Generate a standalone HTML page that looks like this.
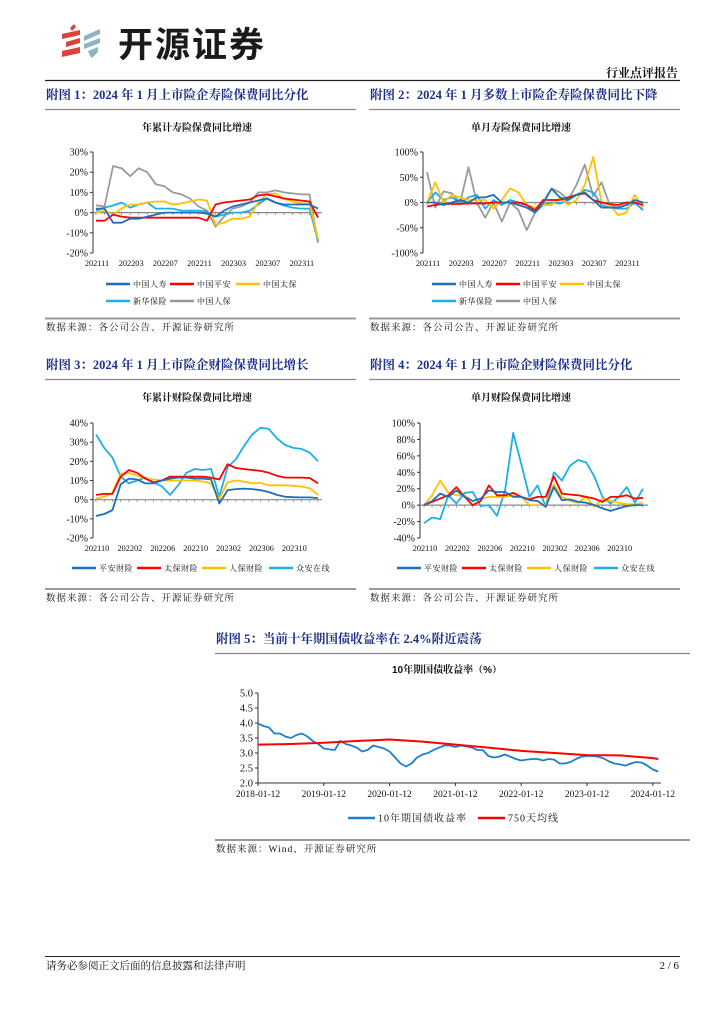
<!DOCTYPE html>
<html><head><meta charset="utf-8">
<style>
html,body{margin:0;padding:0;background:#fff;}
body{width:724px;height:1024px;position:relative;overflow:hidden;font-family:"Liberation Serif","Noto Serif CJK SC",serif;}
svg{position:absolute;left:0;top:0;}
</style></head>
<body>
<svg id="pg" width="724" height="1024" viewBox="0 0 724 1024" xmlns="http://www.w3.org/2000/svg">
  <g>
    <polygon points="70,28 74,24 76,27 72,31" fill="#d9443a"/>
    <polygon points="62,34 80,30 80,35 62,39" fill="#d9443a"/>
    <polygon points="66,42 80,38 80,43 66,47" fill="#d9443a"/>
    <polygon points="62,51 80,47 80,53 62,57" fill="#d9443a"/>
    <polygon points="84,36 100,29 100,34 84,41" fill="#8fb3c4"/>
    <polygon points="84,44 100,38 100,43 84,49" fill="#8fb3c4"/>
    <polygon points="88,51 98,47 98,52 92,58 90,56" fill="#8fb3c4"/>
  </g>
  <text x="118" y="57" font-family="'Liberation Sans','Noto Sans CJK SC',sans-serif" font-weight="bold" font-size="35" fill="#1a1a1a" letter-spacing="2">开源证券</text>
  <line x1="45" y1="80.5" x2="680" y2="80.5" stroke="#222" stroke-width="1.2"/>
  <text x="678" y="77" text-anchor="end" font-family="'Liberation Serif','Noto Serif CJK SC',serif" font-weight="bold" font-size="12" fill="#111">行业点评报告</text>
  <g id="charts"></g>
  <line x1="45" y1="956.5" x2="680" y2="956.5" stroke="#222" stroke-width="1"/>
  <text x="46" y="969" font-size="10.5" fill="#111" font-family="'Liberation Serif','Noto Serif CJK SC',serif">请务必参阅正文后面的信息披露和法律声明</text>
  <text x="679" y="969" text-anchor="end" font-size="11" fill="#111">2 / 6</text>
</svg>
<script>
// ---------- Chart 1: 年累计寿险保费同比增速 (202111-202401) ----------
const c1Cats=['202111','202112','202201','202202','202203','202204','202205','202206','202207','202208','202209','202210','202211','202212','202301','202302','202303','202304','202305','202306','202307','202308','202309','202310','202311','202312','202401'];
const c1Renshou=[2,2,-5,-5,-3,-3,-2,-1,0,0,0,0,0,-0.5,-2,1,3,4,5,6,7,5,4,4,4,4,2];
const c1Pingan=[-4,-4,-1,-2,-2.5,-2.5,-2.5,-2.5,-2.5,-2.5,-2.5,-2.5,-2.5,-4,4,5,5.5,6,6.5,8.5,9,8,7,6.5,6,5.5,-2.5];
const c1Taibao=[0,1,-1,2,4,4,5,5.5,5.5,4,4.5,5.5,6.5,6,-6,-5,-3,-3,-2,5,9,9.5,7,5.5,4.5,4.5,-13];
const c1Xinhua=[1,2.5,3.5,5,2.5,4,5,2,2,2,1,1,1,0.5,-2,-1,0,0,1,4,7,5,3.5,2.5,2,2,-14];
const c1Renbao=[3.6,3,23,22,18,22,20,14,13,10,9,7,3,1,-7,-2,2,3,5,10,10,11,10,9.5,9,9,-15];
const c1Ticks=[-20,-10,0,10,20,30];
// ---------- Chart 2: 单月寿险保费同比增速 ----------
const c2Renshou=[0,0,-5,0,5,0,10,10,15,0,0,-5,-10,-20,0,27,10,5,15,20,5,-10,-10,-10,-5,5,0];
const c2Pingan=[-8,-5,-3,-3,-3,-2,-2,-2,0,0,0,0,-5,-15,5,5,5,10,15,18,5,0,-3,-5,0,0,-5];
const c2Taibao=[0,40,0,15,10,5,5,5,-12,5,28,20,-5,-10,-5,-5,10,-5,5,35,90,0,-5,-25,-20,15,-10];
const c2Xinhua=[0,20,5,10,0,10,15,-12,5,-5,5,0,-5,-20,-5,0,-2,5,15,25,20,-5,-10,-12,-12,0,-15];
const c2Renbao=[60,-10,22,18,0,70,0,-30,0,-38,0,-15,-55,-20,0,28,20,5,35,75,12,40,-5,-10,-5,0,-15];
const c2Ticks=[-100,-50,0,50,100];
// ---------- Chart 3: 年累计财险保费同比增速 (202110-202401) ----------
const c3Cats=['202110','202111','202112','202201','202202','202203','202204','202205','202206','202207','202208','202209','202210','202211','202212','202301','202302','202303','202304','202305','202306','202307','202308','202309','202310','202311','202312','202401'];
const c3Pingan=[-8.5,-7.5,-5.5,8,11,10.5,8.5,8.5,10,11,11.5,11.5,11,11,10.5,-2,5,5.5,5.8,5.5,5,4,2.5,1.5,1.3,1.2,1.2,0.8];
const c3Taibao=[2.5,3,3,12,15.5,14,11,9,10,12,12,12,12,12,11.5,10.5,18.5,16.5,16,15.5,15,14,12.5,11.5,11.5,11.5,11.3,8.5];
const c3Renbao=[0.5,1.5,3.5,13.5,14,12.5,11,10.5,10,10,10,10,10,9.5,8.5,0.5,9,10,9.5,8.5,8.8,7.5,7.5,7.5,7.2,6.8,6,2.5];
const c3Zhongan=[34,27,22,12,8.5,10,11.5,9,7,2.5,7.5,14,16,15.5,16,1.5,17,21,28,34,37.5,37,32,28.5,27,26.5,24.5,20];
const c3Ticks=[-20,-10,0,10,20,30,40];
// ---------- Chart 4: 单月财险保费同比增速 ----------
const c4Pingan=[0,5,14,10,18,10,5,8,18,16,16,10,10,6,5,-2,22,6,7,4,3,0,-4,-7,-4,-1,0,0];
const c4Taibao=[0,4,8,12,22,10,0,5,24,12,12,15,10,7,10,10,35,14,13,12,10,8,4,10,10,12,8,9];
const c4Renbao=[0,12,30,15,12,12,5,8,10,10,10,12,10,0,0,0,25,10,5,3,10,-2,8,5,3,1,1,3];
const c4Zhongan=[-22,-15,-17,12,2,15,16,-1,0,-13,18,88,50,10,24,-2,40,30,48,55,52,35,10,2,10,22,3,20];
const c4Ticks=[-40,-20,0,20,40,60,80,100];
// ---------- Chart 5: 10年期国债收益率 (monthly, 2018-01 .. 2024-02) ----------
const c5Yield=[3.98,3.9,3.85,3.65,3.65,3.55,3.5,3.6,3.65,3.55,3.4,3.3,
 3.15,3.12,3.1,3.4,3.3,3.25,3.18,3.05,3.1,3.25,3.2,3.15,
 3.05,2.85,2.65,2.55,2.65,2.85,2.95,3.0,3.1,3.18,3.25,3.25,
 3.2,3.25,3.22,3.18,3.1,3.1,2.9,2.85,2.88,2.95,2.88,2.8,
 2.75,2.78,2.8,2.8,2.75,2.8,2.78,2.65,2.65,2.7,2.8,2.88,
 2.9,2.9,2.88,2.82,2.72,2.65,2.62,2.58,2.65,2.7,2.68,2.58,
 2.45,2.38];
const c5MaMonths=[0,6,12,18,24,30,36,42,48,54,60,66,72,73];
const c5MaValues=[3.28,3.30,3.34,3.40,3.45,3.38,3.28,3.18,3.07,3.0,2.93,2.92,2.83,2.80];
const c5Ticks=[2.0,2.5,3.0,3.5,4.0,4.5,5.0];
const c5Years=['2018-01-12','2019-01-12','2020-01-12','2021-01-12','2022-01-12','2023-01-12','2024-01-12'];

const NS='http://www.w3.org/2000/svg';
const root=document.getElementById('charts');
const COL={renshou:'#1f6fb8',pingan:'#ff0000',taibao:'#ffc000',xinhua:'#1cb0e6',renbao:'#9a9a9a'};
function mk(tag,attrs,parent){const e=document.createElementNS(NS,tag);for(const k in attrs)e.setAttribute(k,attrs[k]);(parent||root).appendChild(e);return e;}
function txt(x,y,s,size,opts,parent){const t=mk('text',Object.assign({x:x,y:y,'font-size':size,fill:'#111'},opts||{}),parent);t.textContent=s;return t;}

function section(x1,x2,yTitle,title,chartTitle,ctX,ctY,yBot,source){
  const t=txt(x1+1,yTitle,title,12.5,{fill:'#1c2f8a','font-weight':'bold','font-family':"'Liberation Serif','Noto Serif CJK SC',serif"});
  
  
  const l=mk('line',{x1:x1,y1:yTitle+10.5,x2:x2,y2:yTitle+10.5,stroke:'#888','stroke-width':1.2});
  
  
  const c=txt(ctX,ctY,chartTitle,10,{'text-anchor':'middle','font-weight':'bold','font-family':"'Liberation Sans','Noto Serif CJK SC',serif"});
  
  
  const b=mk('line',{x1:x1,y1:yBot,x2:x2,y2:yBot,stroke:'#999','stroke-width':2});
  
  
  const s=txt(x1+1,yBot+12,source,9.5,{'font-family':"'Liberation Serif','Noto Serif CJK SC',serif",'letter-spacing':'1'});
  
  
}

function lineChart(cfg){
  const g=mk('g',{});
  
  
  const ys=v=>cfg.yTop+(cfg.max-v)/(cfg.max-cfg.min)*(cfg.yBot-cfg.yTop);
  const xs=i=>cfg.x0+i*(cfg.x1-cfg.x0)/(cfg.n-1);
  const ya=mk('line',{x1:cfg.ax,y1:cfg.yTop,x2:cfg.ax,y2:cfg.yBot,stroke:'#333','stroke-width':1},g);
  
  
  cfg.ticks.forEach(v=>{
    mk('line',{x1:cfg.ax-3,y1:ys(v),x2:cfg.ax,y2:ys(v),stroke:'#333','stroke-width':1},g);
    const t=txt(cfg.ax-5,ys(v)+3.5,cfg.fmt(v),10,{'text-anchor':'end'},g);
    
    
  });
  const y0=ys(cfg.base);
  const xa=mk('line',{x1:cfg.ax,y1:y0,x2:cfg.axEnd,y2:y0,stroke:'#888','stroke-width':1.2},g);
  
  
  for(let i=0;i<cfg.n;i++)mk('line',{x1:xs(i),y1:y0,x2:xs(i),y2:y0+2.5,stroke:'#888','stroke-width':0.8},g);
  cfg.cats.forEach((c,i)=>{
    if(i%4!==0)return;
    const t=txt(xs(i)+1,cfg.labY,c,8.3,{'text-anchor':'middle'},g);
    
    
  });
  cfg.series.forEach(s=>{
    const d=s.data.map((v,i)=>(i?'L':'M')+xs(i).toFixed(1)+','+ys(v).toFixed(1)).join('');
    const p=mk('path',{d:d,fill:'none',stroke:s.color,'stroke-width':1.8,'stroke-linejoin':'round'},g);
    
    
  });
  cfg.legend.forEach(L=>{
    const lg=mk('g',{},g);
    
    
    mk('line',{x1:L[0],y1:L[1],x2:L[0]+24,y2:L[1],stroke:L[3],'stroke-width':2.5},lg);
    txt(L[0]+27,L[1]+3,L[2],8,{'font-family':"'Liberation Serif','Noto Serif CJK SC',serif",'letter-spacing':'0.5'},lg);
  });
}
const pct=v=>v+'%';

section(45,356,99,'附图 1：2024 年 1 月上市险企寿险保费同比分化','年累计寿险保费同比增速',197,131,318.5,'数据来源：各公司公告、开源证券研究所');
lineChart({name:'chart-life-ytd',ax:93,axEnd:322,yTop:152,yBot:253,min:-20,max:30,base:0,ticks:c1Ticks,fmt:pct,x0:96,x1:318,n:c1Cats.length,cats:c1Cats,labY:266,
 series:[{key:'renbao',data:c1Renbao,color:COL.renbao},{key:'xinhua',data:c1Xinhua,color:COL.xinhua},{key:'taibao',data:c1Taibao,color:COL.taibao},{key:'pingan',data:c1Pingan,color:COL.pingan},{key:'renshou',data:c1Renshou,color:COL.renshou}],
 legend:[[106,284,'中国人寿',COL.renshou],[170,284,'中国平安',COL.pingan],[236,284,'中国太保',COL.taibao],[106,301,'新华保险',COL.xinhua],[170,301,'中国人保',COL.renbao]]});

section(369,680,99,'附图 2：2024 年 1 月多数上市险企寿险保费同比下降','单月寿险保费同比增速',521,131,318.5,'数据来源：各公司公告、开源证券研究所');
lineChart({name:'chart-life-monthly',ax:423,axEnd:648,yTop:152,yBot:253,min:-100,max:100,base:0,ticks:c2Ticks,fmt:pct,x0:427,x1:643,n:c1Cats.length,cats:c1Cats,labY:266,
 series:[{key:'renbao',data:c2Renbao,color:COL.renbao},{key:'xinhua',data:c2Xinhua,color:COL.xinhua},{key:'taibao',data:c2Taibao,color:COL.taibao},{key:'pingan',data:c2Pingan,color:COL.pingan},{key:'renshou',data:c2Renshou,color:COL.renshou}],
 legend:[[432,284,'中国人寿',COL.renshou],[496,284,'中国平安',COL.pingan],[560,284,'中国太保',COL.taibao],[432,301,'新华保险',COL.xinhua],[496,301,'中国人保',COL.renbao]]});

section(45,356,369,'附图 3：2024 年 1 月上市险企财险保费同比增长','年累计财险保费同比增速',197,401,589,'数据来源：各公司公告、开源证券研究所');
lineChart({name:'chart-pc-ytd',ax:93,axEnd:322,yTop:423,yBot:538,min:-20,max:40,base:0,ticks:c3Ticks,fmt:pct,x0:96,x1:318,n:c3Cats.length,cats:c3Cats,labY:551,
 series:[{key:'zhongan',data:c3Zhongan,color:COL.xinhua},{key:'renbao',data:c3Renbao,color:COL.taibao},{key:'taibao',data:c3Taibao,color:COL.pingan},{key:'pingan',data:c3Pingan,color:COL.renshou}],
 legend:[[72,568,'平安财险',COL.renshou],[137,568,'太保财险',COL.pingan],[202,568,'人保财险',COL.taibao],[269,568,'众安在线',COL.xinhua]]});

section(369,680,369,'附图 4：2024 年 1 月上市险企财险保费同比分化','单月财险保费同比增速',521,401,589,'数据来源：各公司公告、开源证券研究所');
lineChart({name:'chart-pc-monthly',ax:420,axEnd:648,yTop:423,yBot:538,min:-40,max:100,base:0,ticks:c4Ticks,fmt:pct,x0:424,x1:643,n:c3Cats.length,cats:c3Cats,labY:551,
 series:[{key:'zhongan',data:c4Zhongan,color:COL.xinhua},{key:'renbao',data:c4Renbao,color:COL.taibao},{key:'taibao',data:c4Taibao,color:COL.pingan},{key:'pingan',data:c4Pingan,color:COL.renshou}],
 legend:[[397,568,'平安财险',COL.renshou],[462,568,'太保财险',COL.pingan],[527,568,'人保财险',COL.taibao],[594,568,'众安在线',COL.xinhua]]});

section(215,690,643,'附图 5：当前十年期国债收益率在 2.4%附近震荡','10年期国债收益率（%）',447,673,840,'数据来源：Wind、开源证券研究所');
(function(){
  const g=mk('g',{});
  
  
  const ax=258,axEnd=661,yTop=693,yBot=783,mn=2,mx=5,perYear=65.8;
  const ys=v=>yTop+(mx-v)/(mx-mn)*(yBot-yTop);
  const xm=m=>ax+m*perYear/12;
  const ya=mk('line',{x1:ax,y1:yTop,x2:ax,y2:yBot,stroke:'#333'},g);
  
  
  c5Ticks.forEach(v=>{
    mk('line',{x1:ax-3,y1:ys(v),x2:ax,y2:ys(v),stroke:'#333'},g);
    const t=txt(ax-5,ys(v)+3.5,v.toFixed(1),10.5,{'text-anchor':'end'},g);
    
    
  });
  const xa=mk('line',{x1:ax,y1:yBot,x2:axEnd,y2:yBot,stroke:'#333'},g);
  
  
  c5Years.forEach((s,i)=>{
    mk('line',{x1:xm(i*12),y1:yBot,x2:xm(i*12),y2:yBot+3,stroke:'#333'},g);
    const t=txt(xm(i*12),yBot+14,s,9.5,{'text-anchor':'middle'},g);
    
    
  });
  const d1=c5Yield.map((v,i)=>(i?'L':'M')+xm(i).toFixed(1)+','+ys(v).toFixed(1)).join('');
  const p1=mk('path',{d:d1,fill:'none',stroke:'#1f7fc8','stroke-width':1.8,'stroke-linejoin':'round'},g);
  
  
  const d2=c5MaValues.map((v,i)=>(i?'L':'M')+xm(c5MaMonths[i]).toFixed(1)+','+ys(v).toFixed(1)).join('');
  const p2=mk('path',{d:d2,fill:'none',stroke:'#ff0000','stroke-width':2},g);
  
  
  [[348,818,'10年期国债收益率','#1f7fc8'],[478,818,'750天均线','#ff0000']].forEach(L=>{
    const lg=mk('g',{},g);
    
    
    mk('line',{x1:L[0],y1:L[1],x2:L[0]+27,y2:L[1],stroke:L[3],'stroke-width':2.5},lg);
    txt(L[0]+30,L[1]+3.5,L[2],10,{'font-family':"'Liberation Serif','Noto Serif CJK SC',serif",'letter-spacing':'1'},lg);
  });
})();
</script>
</body></html>
